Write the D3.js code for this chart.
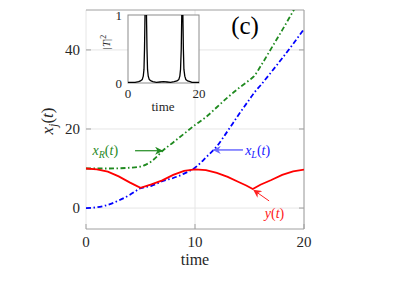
<!DOCTYPE html>
<html>
<head>
<meta charset="utf-8">
<script src="https://cdn.jsdelivr.net/npm/d3@7"></script>
<style>
  body { margin:0; background:#fff; }
</style>
</head>
<body>
<script>
// --- data ---
const tY  = [0,1,2,3,4,4.5,5,6,7,8,9,10,11,12,13,14,14.7,15.3,16,17,18,19,20]
const yT  = [10,9.8,9.2,8.0,6.5,5.8,5.1,6.0,7.0,8.4,9.4,9.8,9.6,8.9,7.9,6.6,5.7,4.8,5.9,7.1,8.4,9.3,9.7]

const tL  = [0,1,2,3,4,5,6,7,8,9,9.5,10,10.5,11,12,13,14,15,15.5,16,17,18,19,20]
const xL  = [0,0.2,0.8,1.9,3.3,5.0,5.6,6.8,7.6,8.7,9.4,10.2,11.4,12.8,15.6,19.5,23.6,27.5,29.4,31.0,34.4,37.9,41.5,45.3]

const tR  = [0,1,2,3,4,5,5.5,6,6.5,7,8,9,10,11,12,13,14,15,15.4,16,17,18,19,20]
const xR  = [10,10,10,10.05,10.2,10.5,11,11.8,13.0,14.4,16.6,18.8,21.0,23.0,25.5,28.0,30.3,32.4,33.3,35.8,40.4,45.0,49.8,54.6]

const tT  = [0,2,3,3.5,4,4.3,4.5,4.65,4.75,4.85,5.0,5.15,5.25,5.35,5.5,5.7,6,6.5,7,8,9,10,11,12,13,13.8,14.3,14.6,14.8,15.0,15.1,15.25,15.4,15.5,15.6,15.75,16.0,16.3,16.8,17.5,18,20]
const T2  = [0.01,0.01,0.02,0.03,0.05,0.1,0.2,0.5,0.85,1.2,1.4,1.2,0.85,0.5,0.2,0.1,0.05,0.03,0.02,0.01,0.015,0.02,0.015,0.01,0.02,0.03,0.05,0.1,0.2,0.5,0.85,1.3,1.2,0.85,0.5,0.2,0.1,0.05,0.03,0.02,0.01,0.01]

const xTicks = [0,10,20]
const yTicks = [0,20,40]
const insetXTicks = [0,20]
const insetYTicks = [0,1]

const svg = d3.select("body")
              .append("svg")
              .attr("width",403)
              .attr("height",307)
              .style("font-family","Liberation Serif")

const x = d3.scaleLinear().domain([0,20]).range([86,304])
const y = d3.scaleLinear().domain([-5.3,50.1]).range([229,10])

const defs = svg.append("defs")
defs.append("clipPath").attr("id","mainclip")
    .append("rect").attr("x",86).attr("y",10).attr("width",218).attr("height",219)

function arrowHead(id,color){
  defs.append("marker").attr("id",id)
      .attr("viewBox","0 0 10 10").attr("refX",9).attr("refY",5)
      .attr("markerWidth",9).attr("markerHeight",8).attr("orient","auto")
      .attr("markerUnits","userSpaceOnUse")
      .append("path").attr("d","M0,0 L10,5 L0,10 L3,5 Z").attr("fill",color)
}
arrowHead("ag","#1f8a1f")
arrowHead("ab","#6b6bff")
arrowHead("ar","#ff2020")

// grid
svg.append("g").selectAll("line").data(yTicks).enter().append("line")
   .attr("x1",86).attr("x2",304).attr("y1",d=>y(d)).attr("y2",d=>y(d))
   .attr("stroke","#e6e6e6")
svg.append("g").selectAll("line").data(xTicks).enter().append("line")
   .attr("y1",10).attr("y2",229).attr("x1",d=>x(d)).attr("x2",d=>x(d))
   .attr("stroke","#e6e6e6")

// box (no left spine visible)
svg.append("path").attr("d","M86,10 H304 V229 H86").attr("fill","none").attr("stroke","#a0a0a0")

// ticks
svg.append("g").selectAll("line").data(yTicks).enter().append("line")
   .attr("x1",86).attr("x2",91).attr("y1",d=>y(d)).attr("y2",d=>y(d)).attr("stroke","#a0a0a0")
svg.append("g").selectAll("line").data(yTicks).enter().append("line")
   .attr("x1",299).attr("x2",304).attr("y1",d=>y(d)).attr("y2",d=>y(d)).attr("stroke","#a0a0a0")
svg.append("g").selectAll("line").data(xTicks).enter().append("line")
   .attr("y1",224).attr("y2",229).attr("x1",d=>x(d)).attr("x2",d=>x(d)).attr("stroke","#a0a0a0")

svg.append("g").selectAll("text").data(yTicks).enter().append("text")
   .attr("x",80).attr("y",d=>y(d)+5).attr("text-anchor","end")
   .attr("font-size","15px").attr("fill","#262626").text(d=>d)
svg.append("g").selectAll("text").data(xTicks).enter().append("text")
   .attr("x",d=>x(d)).attr("y",247).attr("text-anchor","middle")
   .attr("font-size","15px").attr("fill","#262626").text(d=>d)

svg.append("text").attr("x",195).attr("y",265).attr("text-anchor","middle")
   .attr("font-size","16px").attr("fill","#262626").text("time")

const ylab = svg.append("text").attr("transform","translate(53,121) rotate(-90)")
   .attr("text-anchor","middle").attr("font-size","17px").attr("fill","#262626")
ylab.append("tspan").attr("font-style","italic").text("x")
ylab.append("tspan").attr("font-style","italic").attr("font-size","12px").attr("dy",4).text("j")
ylab.append("tspan").attr("dy",-4).text("(")
ylab.append("tspan").attr("font-style","italic").text("t")
ylab.append("tspan").text(")")

// curves
const line = d3.line().x(d=>x(d[0])).y(d=>y(d[1]))
const smooth = d3.line().x(d=>x(d[0])).y(d=>y(d[1])).curve(d3.curveMonotoneX)
const curves = svg.append("g").attr("clip-path","url(#mainclip)")
curves.append("path").datum(d3.zip(tL,xL)).attr("d",smooth)
      .attr("fill","none").attr("stroke","#0000ff").attr("stroke-width",1.8)
      .attr("stroke-dasharray","5,2.5,1.5,2.5")
curves.append("path").datum(d3.zip(tR,xR)).attr("d",smooth)
      .attr("fill","none").attr("stroke","#1f8a1f").attr("stroke-width",1.8)
      .attr("stroke-dasharray","5,2.5,1.5,2.5")
curves.append("path").datum(d3.zip(tY,yT)).attr("d",line)
      .attr("fill","none").attr("stroke","#ff0000").attr("stroke-width",1.8)

// annotations (data coordinates)
function label(g,t,v,color,main,sub){
  const tx = g.append("text").attr("x",x(t)).attr("y",y(v)).attr("font-size","14px").attr("fill",color)
  tx.append("tspan").attr("font-style","italic").text(main)
  if(sub){ tx.append("tspan").attr("font-style","italic").attr("font-size","10px").attr("dy",3).text(sub)
           tx.append("tspan").attr("dy",-3).text("(") }
  else tx.append("tspan").text("(")
  tx.append("tspan").attr("font-style","italic").text("t")
  tx.append("tspan").text(")")
}
const ann = svg.append("g")
label(ann,0.6,13.4,"#1f8a1f","x","R")
ann.append("line").attr("x1",x(4.5)).attr("y1",y(14.5)).attr("x2",x(7.0)).attr("y2",y(14.5))
   .attr("stroke","#1f8a1f").attr("stroke-width",1.2).attr("marker-end","url(#ag)")
label(ann,14.6,13.5,"#2020ff","x","L")
ann.append("line").attr("x1",x(14.4)).attr("y1",y(14.7)).attr("x2",x(11.7)).attr("y2",y(14.7))
   .attr("stroke","#6b6bff").attr("stroke-width",1.5).attr("marker-end","url(#ab)")
label(ann,16.4,-2.5,"#ff2020","y",null)
ann.append("line").attr("x1",x(16.8)).attr("y1",y(1.8)).attr("x2",x(15.4)).attr("y2",y(4.5))
   .attr("stroke","#ff2020").attr("stroke-width",1).attr("marker-end","url(#ar)")

svg.append("text").attr("x",245).attr("y",34).attr("text-anchor","middle")
   .attr("font-size","25px").attr("fill","#000").text("(c)")

// inset
const ix = d3.scaleLinear().domain([0,20]).range([128,199])
const iy = d3.scaleLinear().domain([0,1]).range([83,15])
defs.append("clipPath").attr("id","insetclip")
    .append("rect").attr("x",128).attr("y",15).attr("width",71).attr("height",68)
svg.append("rect").attr("x",128).attr("y",15).attr("width",71).attr("height",68)
   .attr("fill","#fff").attr("stroke","#8c8c8c")
svg.append("g").attr("clip-path","url(#insetclip)")
   .append("path").datum(d3.zip(tT,T2))
   .attr("d",d3.line().x(d=>ix(d[0])).y(d=>iy(d[1])))
   .attr("fill","none").attr("stroke","#000").attr("stroke-width",1.3)
svg.append("g").selectAll("text").data(insetXTicks).enter().append("text")
   .attr("x",d=>ix(d)).attr("y",98).attr("text-anchor","middle")
   .attr("font-size","13px").attr("fill","#262626").text(d=>d)
svg.append("g").selectAll("text").data(insetYTicks).enter().append("text")
   .attr("x",122).attr("y",d=>iy(d)+4.5).attr("text-anchor","end")
   .attr("font-size","13px").attr("fill","#262626").text(d=>d)
svg.append("text").attr("x",163).attr("y",111).attr("text-anchor","middle")
   .attr("font-size","13px").attr("fill","#262626").text("time")
const ilab = svg.append("text").attr("transform","translate(110,42) rotate(-90)")
   .attr("text-anchor","middle").attr("font-size","11px").attr("fill","#262626")
ilab.append("tspan").text("|")
ilab.append("tspan").attr("font-style","italic").text("T")
ilab.append("tspan").text("|")
ilab.append("tspan").attr("font-size","8px").attr("dy",-4).text("2")
</script>
</body>
</html>
